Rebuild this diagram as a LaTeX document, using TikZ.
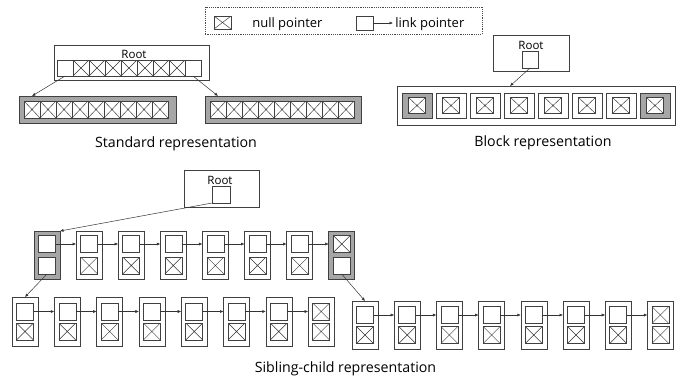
\documentclass[tikz,border=0pt]{standalone}
\usepackage{fontspec}
\setmainfont{Open Sans}
\usetikzlibrary{arrows.meta,calc}
\definecolor{blockgray}{HTML}{A6A6A6}
\begin{document}
\begin{tikzpicture}[x=1pt,y=-1pt,line width=0.6pt,
  box/.style={draw=black!75,fill=white,rectangle,inner sep=0pt,outer sep=0pt},
  cell/.style={box},
  graybox/.style={box,fill=blockgray},
  nullcell/.style={box,path picture={\draw[line width=0.45pt,black!80]
      (path picture bounding box.north west) -- (path picture bounding box.south east)
      (path picture bounding box.south west) -- (path picture bounding box.north east);}},
  arr/.style={draw=black!80,line width=0.5pt,-{Latex[length=3.5pt,width=3pt]}},
  rootlbl/.style={font=\fontsize{11.5}{13}\selectfont,inner sep=0pt,anchor=base},
  legtext/.style={font=\fontsize{13}{15}\selectfont,inner sep=0pt,anchor=base west},
  caption/.style={font=\fontsize{14.2}{17}\selectfont,inner sep=0pt,anchor=base},
  sq/.style={minimum width=17pt,minimum height=17pt}
]
\useasboundingbox (0,0) rectangle (693,376);

% ---------- legend ----------
\node[draw=black!70,dash pattern=on 1.2pt off 1pt,line width=0.5pt,rectangle,
      minimum width=277pt,minimum height=27pt,anchor=north west] (legend) at (205,7) {};
\node[nullcell,minimum width=17pt,minimum height=13pt] (lgnull) at (222.5,22.5) {};
\node[legtext] (lgnulltxt) at (252,27) {null pointer};
\node[cell,minimum width=17pt,minimum height=14pt] (lglink) at (364.5,23) {};
\coordinate (lgtip) at (393,23);
\draw[arr] (lglink.east) -- (lgtip);
\node[legtext] (lglinktxt) at (395,27) {link pointer};

% ---------- standard representation ----------
\node[box,minimum width=155pt,minimum height=35pt,anchor=north west] (stdroot) at (54,45) {};
\node[rootlbl] (stdrootlbl) at (134,58) {Root};
\foreach \i/\s in {0/cell,1/nullcell,2/nullcell,3/nullcell,4/nullcell,5/nullcell,6/nullcell,7/nullcell,8/cell}
  \node[\s,minimum width=16pt,minimum height=16pt] (stdr\i) at ({65+16*\i},68) {};

\node[graybox,minimum width=157pt,minimum height=27pt,anchor=north west] (stdL) at (19,96) {};
\node[graybox,minimum width=156pt,minimum height=27pt,anchor=north west] (stdR) at (205,96) {};
\foreach \i in {0,...,8}{
  \node[nullcell,minimum width=16pt,minimum height=17pt] (stdL\i) at ({32+16*\i},109.5) {};
  \node[nullcell,minimum width=16pt,minimum height=17pt] (stdR\i) at ({218+16*\i},109.5) {};
}
\draw[arr] (stdr0.south) -- (stdL0 |- stdL.north);
\draw[arr] (stdr8.south) -- (stdR0 |- stdR.north);
\node[caption] (stdcap) at (176,147) {Standard representation};

% ---------- block representation ----------
\node[box,minimum width=76pt,minimum height=36pt,anchor=north west] (blkroot) at (493,35) {};
\node[rootlbl] (blkrootlbl) at (531,49.5) {Root};
\node[cell,minimum width=16pt,minimum height=17pt] (blkp) at (530,59.5) {};
\node[box,minimum width=278pt,minimum height=39pt,anchor=north west] (blk) at (397,86) {};
\foreach \i/\s in {0/graybox,1/box,2/box,3/box,4/box,5/box,6/box,7/graybox}{
  \node[\s,minimum width=30pt,minimum height=25pt] (blk\i) at ({417+34*\i},105.5) {};
  \node[nullcell,minimum width=17pt,minimum height=16pt] (blkx\i) at (blk\i) {};
}
\coordinate (blkin) at (510,86);
\draw[arr] (blkp.south) -- (blkin);
\node[caption] (blkcap) at (543,146) {Block representation};

% ---------- sibling-child representation ----------
\node[box,minimum width=75pt,minimum height=37pt,anchor=north west] (scroot) at (184,170) {};
\node[rootlbl] (scrootlbl) at (220,184) {Root};
\node[cell,minimum width=18pt,minimum height=17pt] (scp) at (221,194.5) {};

% first level
\foreach \i/\s/\t/\b in {0/graybox/cell/cell,1/box/cell/nullcell,2/box/cell/nullcell,3/box/cell/nullcell,
                         4/box/cell/nullcell,5/box/cell/nullcell,6/box/cell/nullcell,7/graybox/nullcell/cell}{
  \node[\s,minimum width=26pt,minimum height=48pt] (a\i) at ({47+42.1*\i},255) {};
  \node[\t,sq] (a\i t) at ({47+42.1*\i},244) {};
  \node[\b,sq] (a\i b) at ({47+42.1*\i},265.5) {};
}
% second level, left group
\foreach \i/\t in {0/cell,1/cell,2/cell,3/cell,4/cell,5/cell,6/cell,7/nullcell}{
  \node[box,minimum width=26pt,minimum height=49pt] (b\i) at ({25+42.3*\i},321.5) {};
  \node[\t,sq] (b\i t) at ({25+42.3*\i},311.5) {};
  \node[nullcell,sq] (b\i b) at ({25+42.3*\i},331.5) {};
}
% second level, right group
\foreach \i/\t in {0/cell,1/cell,2/cell,3/cell,4/cell,5/cell,6/cell,7/nullcell}{
  \node[box,minimum width=26pt,minimum height=48pt] (c\i) at ({365+42.2*\i},325) {};
  \node[\t,sq] (c\i t) at ({365+42.2*\i},315) {};
  \node[nullcell,sq] (c\i b) at ({365+42.2*\i},335) {};
}
% sibling links
\foreach \i [evaluate=\i as \j using int(\i+1)] in {0,...,6}{
  \draw[arr] (a\i t.east) -- (a\j.west |- a\i t.east);
  \draw[arr] (b\i t.east) -- (b\j.west |- b\i t.east);
  \draw[arr] (c\i t.east) -- (c\j.west |- c\i t.east);
}
% child links
\draw[arr] (scp.south west) -- (a0.north east);
\draw[arr] (a0b.south) -- (b0.north);
\draw[arr] (a7b.south) -- (c0.north);
\node[caption] (sccap) at (345.5,372) {Sibling-child representation};
\end{tikzpicture}
\end{document}
